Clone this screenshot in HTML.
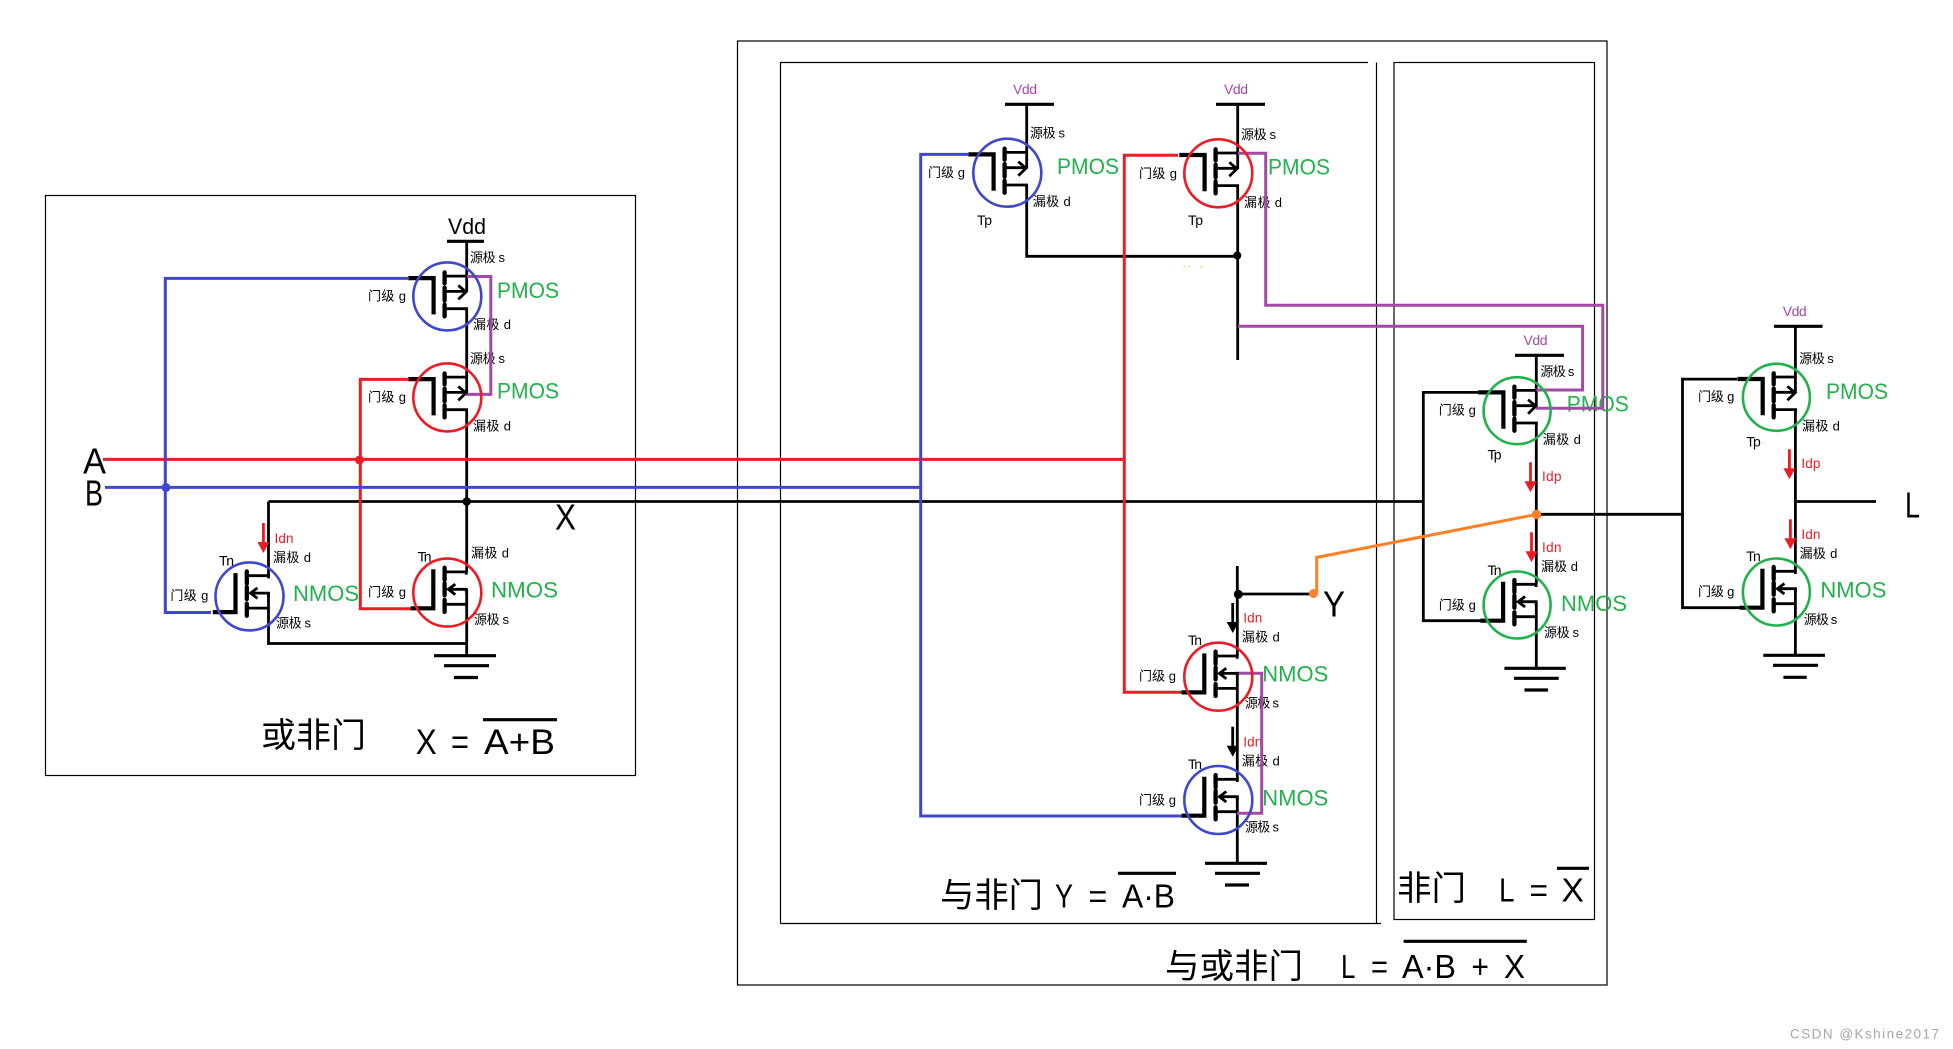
<!DOCTYPE html>
<html><head><meta charset="utf-8"><style>
html,body{margin:0;padding:0;background:#fff}
svg{display:block}
text{font-family:"Liberation Sans","Noto Sans CJK SC",sans-serif;dominant-baseline:central;fill:#000}
.s{font-size:13px}.g{font-size:22px;fill:#22B14C}.r{font-size:13.5px;fill:#ED1C24}.v{font-size:14px;fill:#A349A4}.t{font-size:14px}
</style></head><body>
<svg width="1953" height="1049" viewBox="0 0 1953 1049" xmlns="http://www.w3.org/2000/svg">
<defs>
<g id="p" fill="none" stroke="#000">
<path d="M-39 -18.3H-13.7V18" stroke-width="4.2"/>
<path d="M-2.7 -24V-13M-2.7 -8.7V4M-2.7 8V20" stroke-width="4.3" stroke-linecap="round"/>
<path d="M-2.7 -20.3H19.3M-2.7 -5H18M-2.7 12.3H19.3V15M11 -11L18.7 -4.5L11 3" stroke-width="2.8"/>
</g>
<g id="n" fill="none" stroke="#000">
<path d="M-36.7 15.7H-14V-23.3" stroke-width="4.2"/>
<path d="M-2.7 -25V-12.7M-2.7 -9.3V2.7M-2.7 7.3V19.3" stroke-width="4.3" stroke-linecap="round"/>
<path d="M-2.7 -20.7H19V-18M1 -3.3H19V0M-2.7 11.7H19M8 -8.5L1 -3.3L8 2" stroke-width="2.8"/>
</g>
<g id="ar"><path d="M0 0V21" fill="none" stroke="currentColor" stroke-width="2.8"/><path d="M-6 19H6L0 30Z" fill="currentColor"/></g>
</defs>

<g fill="none" stroke="#000" stroke-width="1.2">
<rect x="45.5" y="195.5" width="590" height="580"/>
<rect x="737.5" y="41" width="869.5" height="944"/>
<path d="M780.5 923.5V62.5H1368M1376.5 62.5V923.5M780.5 923.5H1381"/>
<rect x="1394" y="62.5" width="200.5" height="857"/>
</g>

<text x="448" y="226.5" font-size="22" textLength="38" lengthAdjust="spacingAndGlyphs">Vdd</text>
<text x="83" y="461" font-size="36" textLength="23" lengthAdjust="spacingAndGlyphs">A</text>
<text x="85" y="493" font-size="36" textLength="18" lengthAdjust="spacingAndGlyphs">B</text>
<text x="555" y="517" font-size="36" textLength="21" lengthAdjust="spacingAndGlyphs">X</text>
<text x="1323" y="604" font-size="36" textLength="22" lengthAdjust="spacingAndGlyphs">Y</text>
<text x="1905" y="505" font-size="36" textLength="15" lengthAdjust="spacingAndGlyphs">L</text>

<text class="s" x="470" y="257.7" textLength="35">源极 s</text>
<text class="s" x="368" y="296" textLength="38">门级 g</text>
<text class="g" x="497" y="290.3" textLength="62" lengthAdjust="spacingAndGlyphs">PMOS</text>
<text class="s" x="473" y="324.7" textLength="38">漏极 d</text>
<text class="s" x="470" y="358.4" textLength="35">源极 s</text>
<text class="s" x="368" y="397" textLength="38">门级 g</text>
<text class="g" x="497" y="391" textLength="62" lengthAdjust="spacingAndGlyphs">PMOS</text>
<text class="s" x="473" y="426" textLength="38">漏极 d</text>
<text class="r" x="274.5" y="538.3" textLength="19">Idn</text>
<text class="s" x="273" y="557.4" textLength="38">漏极 d</text>
<text class="t" x="219" y="560.5" textLength="15">Tn</text>
<text class="s" x="170.4" y="595.7" textLength="38">门级 g</text>
<text class="g" x="293" y="593.7" textLength="66" lengthAdjust="spacingAndGlyphs">NMOS</text>
<text class="s" x="276" y="623.2" textLength="35">源极 s</text>
<text class="t" x="417.6" y="556.6" textLength="14">Tn</text>
<text class="s" x="471" y="552.8" textLength="38">漏极 d</text>
<text class="s" x="368" y="591.8" textLength="38">门级 g</text>
<text class="g" x="491" y="590" textLength="67" lengthAdjust="spacingAndGlyphs">NMOS</text>
<text class="s" x="474" y="619.4" textLength="35">源极 s</text>

<text x="261" y="736" font-size="34" textLength="105" lengthAdjust="spacingAndGlyphs">或非门</text>
<text x="415.7" y="742.5" font-size="35" textLength="21" lengthAdjust="spacingAndGlyphs">X</text>
<text x="451" y="742.5" font-size="35" textLength="18" lengthAdjust="spacingAndGlyphs">=</text>
<text x="484" y="742.5" font-size="35" textLength="71" lengthAdjust="spacingAndGlyphs">A+B</text>

<text class="v" x="1013" y="89" textLength="24">Vdd</text>
<text class="v" x="1224" y="89" textLength="24">Vdd</text>
<text class="s" x="1030" y="133" textLength="35">源极 s</text>
<text class="s" x="928" y="172.3" textLength="37">门级 g</text>
<text class="g" x="1057" y="166.5" textLength="62" lengthAdjust="spacingAndGlyphs">PMOS</text>
<text class="s" x="1032.7" y="201.7" textLength="38">漏极 d</text>
<text class="t" x="977" y="220" textLength="15">Tp</text>
<text class="s" x="1241" y="134.3" textLength="35">源极 s</text>
<text class="s" x="1139" y="173.3" textLength="38">门级 g</text>
<text class="g" x="1268" y="167" textLength="62" lengthAdjust="spacingAndGlyphs">PMOS</text>
<text class="s" x="1244" y="202.7" textLength="38">漏极 d</text>
<text class="t" x="1188" y="220" textLength="15">Tp</text>

<text class="r" x="1243.3" y="618" textLength="19">Idn</text>
<text class="s" x="1241.7" y="637" textLength="38">漏极 d</text>
<text class="t" x="1188" y="640" textLength="14">Tn</text>
<text class="s" x="1139" y="676" textLength="37">门级 g</text>
<text class="g" x="1262.3" y="674" textLength="66" lengthAdjust="spacingAndGlyphs">NMOS</text>
<text class="s" x="1245" y="703" textLength="34">源极 s</text>
<text class="r" x="1243.3" y="742" textLength="19">Idn</text>
<text class="s" x="1241.7" y="761" textLength="38">漏极 d</text>
<text class="t" x="1188" y="764" textLength="14">Tn</text>
<text class="s" x="1139" y="800" textLength="37">门级 g</text>
<text class="g" x="1262.3" y="798" textLength="66" lengthAdjust="spacingAndGlyphs">NMOS</text>
<text class="s" x="1245" y="827" textLength="34">源极 s</text>

<text x="940" y="896" font-size="34" textLength="103" lengthAdjust="spacingAndGlyphs">与非门</text>
<text x="1055" y="896" font-size="33" textLength="18" lengthAdjust="spacingAndGlyphs">Y</text>
<text x="1088.4" y="896" font-size="33" textLength="19" lengthAdjust="spacingAndGlyphs">=</text>
<text x="1122" y="896" font-size="33" textLength="53" lengthAdjust="spacingAndGlyphs">A·B</text>

<text x="1397" y="889" font-size="34" textLength="69" lengthAdjust="spacingAndGlyphs">非门</text>
<text x="1499" y="890" font-size="33" textLength="15.6" lengthAdjust="spacingAndGlyphs">L</text>
<text x="1529.5" y="890" font-size="33" textLength="18.5" lengthAdjust="spacingAndGlyphs">=</text>
<text x="1561.5" y="890" font-size="33" textLength="22.4" lengthAdjust="spacingAndGlyphs">X</text>

<text x="1165" y="967" font-size="34" textLength="138" lengthAdjust="spacingAndGlyphs">与或非门</text>
<text x="1341" y="966.5" font-size="33" textLength="14.4" lengthAdjust="spacingAndGlyphs">L</text>
<text x="1371" y="966.5" font-size="33" textLength="17" lengthAdjust="spacingAndGlyphs">=</text>
<text x="1402" y="966.5" font-size="33" textLength="54" lengthAdjust="spacingAndGlyphs">A·B</text>
<text x="1471.4" y="966.5" font-size="33" textLength="17.6" lengthAdjust="spacingAndGlyphs">+</text>
<text x="1504" y="966.5" font-size="33" textLength="21" lengthAdjust="spacingAndGlyphs">X</text>

<text class="v" x="1523.5" y="340" textLength="24">Vdd</text>
<text class="s" x="1540.4" y="371.7" textLength="34">源极 s</text>
<text class="s" x="1438.8" y="410" textLength="37">门级 g</text>
<text class="g" x="1566.8" y="404" textLength="62" lengthAdjust="spacingAndGlyphs">PMOS</text>
<text class="s" x="1542.8" y="439.3" textLength="38">漏极 d</text>
<text class="t" x="1487.5" y="454.7" textLength="14">Tp</text>
<text class="r" x="1542" y="476.7" textLength="19.5">Idp</text>
<text class="r" x="1542" y="547.7" textLength="19.5">Idn</text>
<text class="s" x="1541" y="566.3" textLength="37">漏极 d</text>
<text class="t" x="1487.5" y="570" textLength="14">Tn</text>
<text class="s" x="1438.8" y="605" textLength="37">门级 g</text>
<text class="g" x="1561" y="603.3" textLength="66" lengthAdjust="spacingAndGlyphs">NMOS</text>
<text class="s" x="1544" y="632.7" textLength="35">源极 s</text>

<text class="v" x="1782.7" y="311" textLength="24">Vdd</text>
<text class="s" x="1799.3" y="358.3" textLength="34.5">源极 s</text>
<text class="s" x="1698" y="396.7" textLength="36.4">门级 g</text>
<text class="g" x="1826" y="391.5" textLength="62" lengthAdjust="spacingAndGlyphs">PMOS</text>
<text class="s" x="1802" y="426" textLength="37.8">漏极 d</text>
<text class="t" x="1746.3" y="441.7" textLength="14.5">Tp</text>
<text class="r" x="1801.4" y="463.3" textLength="19">Idp</text>
<text class="r" x="1801.4" y="534.3" textLength="19">Idn</text>
<text class="s" x="1799.6" y="553.3" textLength="37.7">漏极 d</text>
<text class="t" x="1746.3" y="556" textLength="14.5">Tn</text>
<text class="s" x="1698" y="591.7" textLength="36.4">门级 g</text>
<text class="g" x="1820.4" y="590" textLength="66" lengthAdjust="spacingAndGlyphs">NMOS</text>
<text class="s" x="1803.8" y="619.3" textLength="33.5">源极 s</text>

<text x="1790" y="1034" font-size="13.5" style="fill:#a5a5a5" textLength="149">CSDN @Kshine2017</text>

<g fill="none" stroke="#000" stroke-width="2.8">
<path d="M466.7 241V292M466.7 308.7V393M466.7 409.7V572M466.7 589.3V655.7"/>
<path d="M268.5 501.5V575.7M268.5 593V643.5H466.7"/>
<path d="M268.5 501.5H1423.3"/>
<path d="M1026.7 104V168M1026.7 185V256.3H1237.7M1237.7 104V169M1237.7 185.6V360"/>
<path d="M1237.3 566V656M1237.3 673.4V779.3M1237.3 796.7V863M1237.3 594H1315"/>
<path d="M1536.3 355.3V406M1536.3 423V584.3M1536.3 601.7V668.3"/>
<path d="M1795.4 326.3V393M1795.4 409.6V571.3M1795.4 588.7V655.3"/>
<path d="M1478 392.4H1423.3V620.7H1482"/>
<path d="M1737 379.1H1682.5V607.7H1740"/>
<path d="M1536 514.3H1682.5M1796.8 501.5H1876"/>
</g>
<g fill="none" stroke="#000" stroke-width="3.2">
<path d="M447 241.3H484M434 655.7H496M444 665.7H489M454 677.5H478"/>
<path d="M1005 104.3H1054M1216 104.3H1265"/>
<path d="M1205 863.3H1267M1215 873.3H1260M1225 885H1249"/>
<path d="M1515 355.3H1564M1504.4 668.3H1565.8M1514 678.3H1558.7M1524.5 690H1548"/>
<path d="M1773.9 326.3H1822.5M1763.3 655.3H1825M1773 665.3H1818M1783.4 677.3H1806.7"/>
<path d="M483 719.7H557M1118 873.3H1176M1557 868.3H1589M1403.6 941.3H1526.8"/>
</g>

<g fill="none" stroke-width="3">
<path d="M103 459.4H1124.3" stroke="#ED1C24"/>
<path d="M408 379.4H360.3V608.7H413" stroke="#ED1C24"/>
<path d="M1178 155.3H1124.3V692.3H1182" stroke="#ED1C24"/>
<path d="M105 487.4H920.7" stroke="#3F48CC"/>
<path d="M408 278.4H165.3V612.5H211" stroke="#3F48CC"/>
<path d="M968 154.4H920.7V816H1182" stroke="#3F48CC"/>
<path d="M466.7 276.5H490.8V394.4H466" stroke="#A349A4"/>
<path d="M1238 153.3H1265.7V305.3H1602.8V408.3H1535.8" stroke="#A349A4"/>
<path d="M1238 326.3H1582.6V390H1534" stroke="#A349A4"/>
<path d="M1234 673.3H1261.7V813.3H1236.7" stroke="#A349A4"/>
<path d="M1316.7 593V557.4L1536 514.5" stroke="#FF7F27"/>
</g>

<use href="#p" x="447.3" y="296.4"/>
<use href="#p" x="447.3" y="397.4"/>
<use href="#n" x="249.5" y="596.4"/>
<use href="#n" x="447.3" y="592.6"/>
<use href="#p" x="1007.3" y="172.7"/>
<use href="#p" x="1218.3" y="173.3"/>
<use href="#n" x="1218.3" y="676.7"/>
<use href="#n" x="1218.3" y="800"/>
<use href="#p" x="1517.1" y="410.7"/>
<use href="#n" x="1517.1" y="605"/>
<use href="#p" x="1776.4" y="397.3"/>
<use href="#n" x="1776.4" y="592"/>

<g fill="none" stroke-width="2.6">
<circle cx="447.3" cy="296.4" r="34" stroke="#3F48CC"/>
<circle cx="447.3" cy="397.4" r="34" stroke="#ED1C24"/>
<circle cx="249.5" cy="596.4" r="34" stroke="#3F48CC"/>
<circle cx="447.3" cy="592.6" r="34" stroke="#ED1C24"/>
<circle cx="1007.3" cy="172.7" r="34" stroke="#3F48CC"/>
<circle cx="1218.3" cy="173.3" r="34" stroke="#ED1C24"/>
<circle cx="1218.3" cy="676.7" r="34" stroke="#ED1C24"/>
<circle cx="1218.3" cy="800" r="34" stroke="#3F48CC"/>
<circle cx="1517.1" cy="410.7" r="33.5" stroke="#22B14C"/>
<circle cx="1517.1" cy="605" r="33.5" stroke="#22B14C"/>
<circle cx="1776.4" cy="397.3" r="33.5" stroke="#22B14C"/>
<circle cx="1776.4" cy="592" r="33.5" stroke="#22B14C"/>
</g>

<g color="#ED1C24">
<use href="#ar" x="263.4" y="523"/>
<use href="#ar" x="1530.5" y="462.3"/>
<use href="#ar" x="1531.5" y="532.3"/>
<use href="#ar" x="1789.4" y="449.3"/>
<use href="#ar" x="1790.4" y="519.3"/>
</g>
<g color="#000">
<use href="#ar" x="1232.7" y="603"/>
<use href="#ar" x="1232.7" y="726.7"/>
</g>

<circle cx="359.5" cy="460" r="4.5" fill="#ED1C24"/>
<circle cx="166" cy="487.5" r="4.5" fill="#3F48CC"/>
<circle cx="466.7" cy="501.5" r="4.2" fill="#000"/>
<circle cx="1237.3" cy="255.5" r="4" fill="#000"/>
<circle cx="1238.3" cy="594.3" r="4.5" fill="#000"/>
<circle cx="1313.5" cy="593.5" r="4.5" fill="#FF7F27"/>
<circle cx="1536.5" cy="514.5" r="4.8" fill="#FF7F27"/>
<path d="M1183 266.7h3M1188 266.7h2M1200 266.7h3" stroke="#FFD95A" stroke-width="1"/>
</svg>
</body></html>
